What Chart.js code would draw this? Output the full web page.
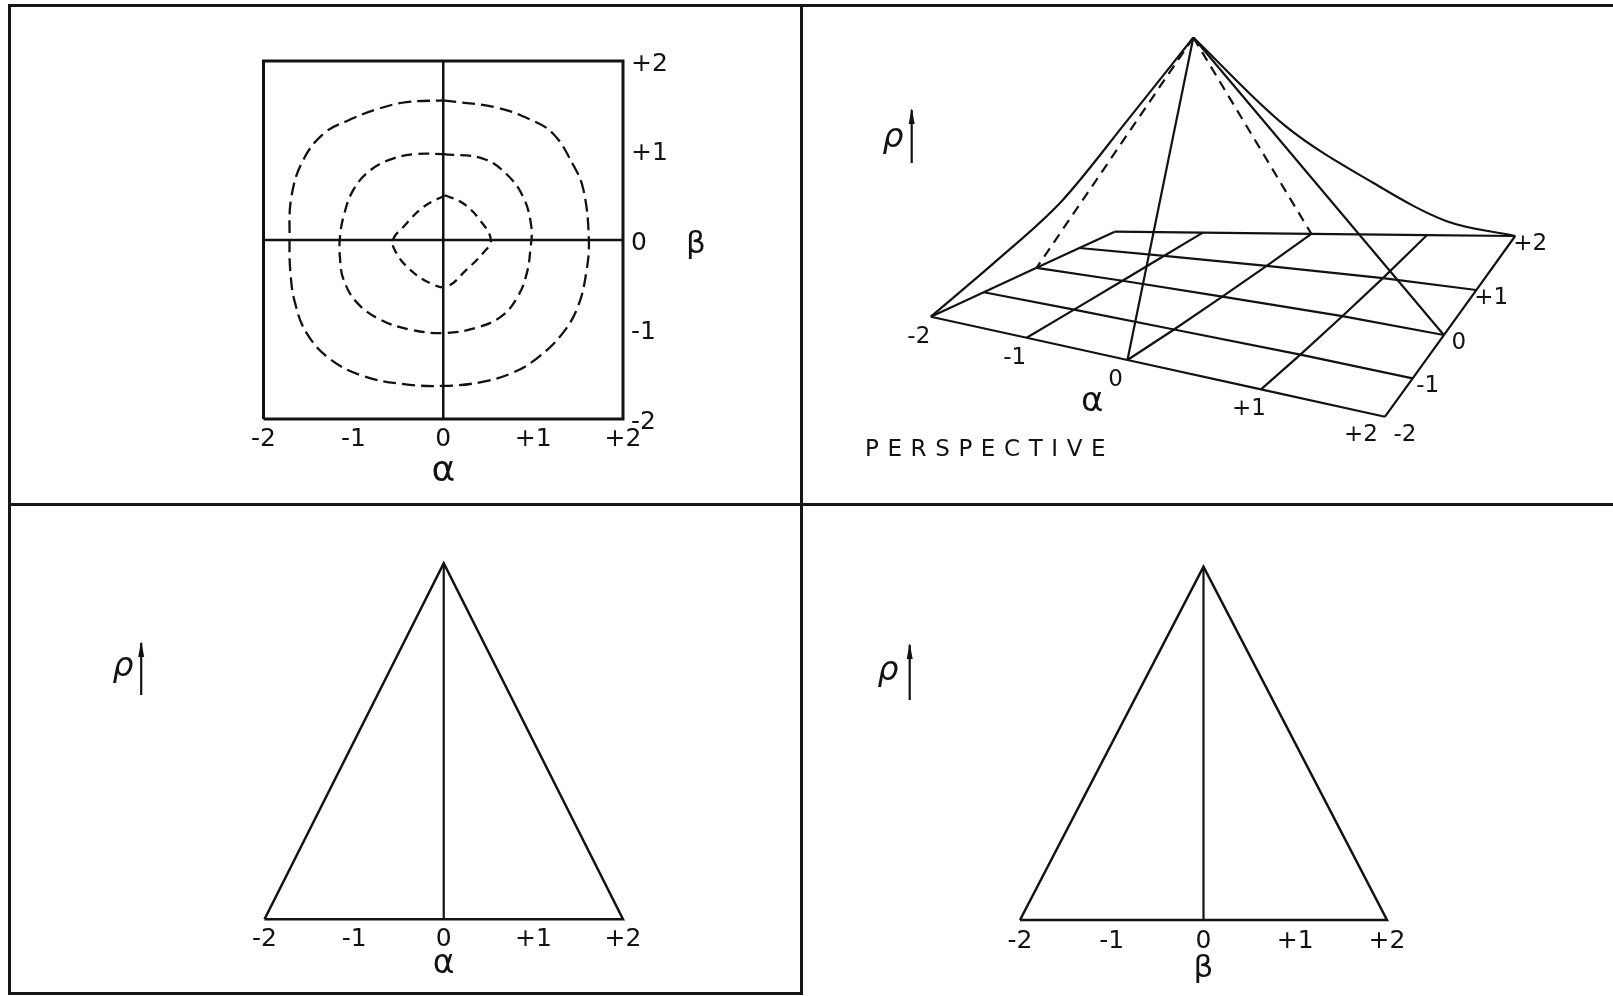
<!DOCTYPE html>
<html>
<head>
<meta charset="utf-8">
<title>rho over alpha, beta</title>
<script src="https://cdn.jsdelivr.net/npm/chart.js@4/dist/chart.umd.min.js"></script>
<style>
    html, body { margin: 0; padding: 0; background: #fff; }
    body { position: relative; width: 1613px; height: 996px; overflow: hidden; }
    canvas { position: absolute; }
    .rule { position: absolute; background: #161616; }
</style>
</head>
<body>
<div class="rule" style="left:8px; top:4px; width:1605px; height:3px"></div>
<div class="rule" style="left:8px; top:4px; width:3px; height:991px"></div>
<div class="rule" style="left:800px; top:4px; width:3px; height:991px"></div>
<div class="rule" style="left:8px; top:503px; width:1605px; height:3px"></div>
<div class="rule" style="left:8px; top:992px; width:795px; height:3px"></div>

<canvas id="contour" width="790" height="498" style="left:10px; top:6px"></canvas>
<canvas id="persp" width="811" height="498" style="left:802px; top:6px"></canvas>
<canvas id="cutA" width="790" height="486" style="left:10px; top:506px"></canvas>
<canvas id="cutB" width="811" height="486" style="left:802px; top:506px"></canvas>

<script>
var ticks = [-2, -1, 0, 1, 2];
var tickText = ['-2', '-1', '0', '+1', '+2'];

// contours of rho in the (alpha, beta) plane, [alpha, beta]
var ringOuter = [[0, 1.56], [0.59, 1.48], [0.96, 1.35], [1.22, 1.19], [1.44, 0.85], [1.56, 0.56],
    [1.62, 0], [1.59, -0.37], [1.5, -0.74], [1.33, -1.04], [1.07, -1.3], [0.78, -1.48], [0.41, -1.59],
    [0, -1.63], [-0.44, -1.61], [-0.89, -1.52], [-1.26, -1.33], [-1.52, -1.04], [-1.65, -0.7],
    [-1.7, -0.37], [-1.71, 0], [-1.69, 0.48], [-1.56, 0.89], [-1.33, 1.19], [-1.07, 1.33],
    [-0.74, 1.46], [-0.41, 1.54]];
var ringMiddle = [[0, 0.96], [0.44, 0.91], [0.7, 0.74], [0.89, 0.48], [0.98, 0.15], [0.97, -0.1],
    [0.93, -0.37], [0.83, -0.63], [0.65, -0.85], [0.37, -0.98], [0, -1.04], [-0.37, -1.0],
    [-0.7, -0.89], [-0.96, -0.7], [-1.11, -0.44], [-1.15, -0.19], [-1.15, 0.02], [-1.11, 0.26],
    [-1.0, 0.56], [-0.81, 0.78], [-0.56, 0.91], [-0.3, 0.96]];
var ringInner = [[0.02, 0.5], [0.22, 0.41], [0.41, 0.22], [0.53, 0], [0.44, -0.15], [0.26, -0.33],
    [0.04, -0.52], [-0.15, -0.48], [-0.37, -0.33], [-0.52, -0.15], [-0.56, 0], [-0.44, 0.15],
    [-0.22, 0.37]];

// sections through the peak: rho against alpha (beta = 0) and against beta (alpha = 0)
var cutPos = [-2, 0, 2];
var cutRho = [0, 1, 0];

// rho down the two diagonals of the surface, t steps out from the peak
var diagStep = [0, 0.5, 1, 1.5, 2];
var diagRhoNear = [1, 0.71, 0.42, 0.21, 0];   // alpha = beta = -t
var diagRhoFar = [1, 0.63, 0.37, 0.15, 0];    // alpha = beta = +t

var ink = '#121212';
var fam = "'DejaVu Sans', sans-serif";

// perspective camera, in panel units
var cam = {
    // base plane corners for (a, b) = (-2,-2), (2,-2), (2,2), (-2,2)
    c: [[128.8, 310.7], [583, 410.7], [713.2, 230], [312.7, 225.7]],
    up: [-29, -259],              // lift for rho = 1
    // grid spacing along each edge, as fractions of the edge
    front: [0, .211, .433, .727, 1],
    back: [0, .220, .491, .780, 1],
    left: [0, .288, .575, .808, 1],
    right: [0, .2125, .452, .701, 1]
};

function along(tbl, v) {
    var i = Math.min(3, Math.floor(v + 2));
    var f = v + 2 - i;
    return tbl[i] + (tbl[i + 1] - tbl[i]) * f;
}

function project(a, b, r) {
    var ul = (a + 2) / 4, vl = (b + 2) / 4;
    var u = along(cam.front, a) * (1 - vl) + along(cam.back, a) * vl;
    var v = along(cam.left, b) * (1 - ul) + along(cam.right, b) * ul;
    var w = [(1 - u) * (1 - v), u * (1 - v), u * v, (1 - u) * v];
    var x = 0, y = 0;
    for (var k = 0; k < 4; k++) {
        x += w[k] * cam.c[k][0];
        y += w[k] * cam.c[k][1];
    }
    return { x: x + r * cam.up[0], y: y + r * cam.up[1] };
}

function seg(points, dash, tension, width) {
    return {
        data: points,
        showLine: true,
        borderColor: ink,
        borderWidth: width || 2.2,
        borderDash: dash || [],
        tension: tension || 0,
        pointRadius: 0,
        fill: false,
        clip: false
    };
}

function ring(pts, dash) {
    var closed = pts.concat([pts[0]]);
    return seg(closed.map(function (p) { return { x: p[0], y: p[1] }; }), dash, 0.4, 2.3);
}

// diagonal edge of the surface, ordered left to right so it can be splined monotonically
function edge(sign, rhos) {
    var pts = diagStep.map(function (t, i) { return project(sign * t, sign * t, rhos[i]); });
    pts.sort(function (p, q) { return p.x - q.x; });
    var ds = seg(pts);
    ds.cubicInterpolationMode = 'monotone';
    return ds;
}

function label(v) {
    return tickText[ticks.indexOf(v)];
}

function rhoMark(ctx, x, base, ax, y0, y1) {
    ctx.save();
    ctx.fillStyle = ink;
    ctx.strokeStyle = ink;
    ctx.font = 'italic 33px ' + fam;
    ctx.textAlign = 'center';
    ctx.textBaseline = 'alphabetic';
    ctx.fillText('\u03C1', x, base);
    ctx.lineWidth = 2.2;
    ctx.beginPath();
    ctx.moveTo(ax, y1);
    ctx.lineTo(ax, y0);
    ctx.stroke();
    ctx.beginPath();
    ctx.moveTo(ax, y0 - 2);
    ctx.lineTo(ax - 3, y0 + 14);
    ctx.lineTo(ax + 3, y0 + 14);
    ctx.closePath();
    ctx.fill();
    ctx.restore();
}

var quiet = { legend: { display: false }, tooltip: { enabled: false } };
var tickFont = { family: fam, size: 25 };
var lo = ticks[0], hi = ticks[ticks.length - 1];

function xAxis(name, nameSize, pad, height) {
    return {
        type: 'linear', min: lo, max: hi,
        grid: { display: false, drawTicks: false },
        border: { display: false },
        ticks: { stepSize: 1, padding: pad, maxRotation: 0, autoSkip: false, color: ink, font: tickFont, callback: label },
        title: { display: true, text: name, color: ink, font: { family: fam, size: nameSize }, padding: 0 },
        afterFit: function (s) { s.height = height; }
    };
}

// contour map
var boxPts = [[lo, lo], [hi, lo], [hi, hi], [lo, hi], [lo, lo]].map(function (p) { return { x: p[0], y: p[1] }; });
new Chart(document.getElementById('contour'), {
    type: 'scatter',
    data: {
        datasets: [
            seg(boxPts, null, 0, 3),
            seg([{ x: lo, y: 0 }, { x: hi, y: 0 }], null, 0, 2.5),
            seg([{ x: 0, y: lo }, { x: 0, y: hi }], null, 0, 2.5),
            ring(ringOuter, [13, 6]),
            ring(ringMiddle, [11, 6]),
            ring(ringInner, [9, 6])
        ]
    },
    options: {
        animation: false, responsive: false, events: [],
        layout: { padding: { left: 253.5, right: 117, top: 55, bottom: 10.4 } },
        plugins: quiet,
        scales: {
            x: xAxis('\u03B1', 36, 5, 74.6),
            y: {
                type: 'linear', position: 'right', min: lo, max: hi,
                grid: { display: false, drawTicks: false },
                border: { display: false },
                ticks: { stepSize: 1, padding: 8, labelOffset: 3, color: ink, font: tickFont, callback: label },
                afterFit: function (s) { s.width = 60; }
            }
        }
    },
    plugins: [{
        id: 'betaName',
        afterDraw: function (chart) {
            var ctx = chart.ctx;
            ctx.save();
            ctx.fillStyle = ink;
            ctx.font = '31px ' + fam;
            ctx.textAlign = 'center';
            ctx.textBaseline = 'alphabetic';
            ctx.fillText('\u03B2', chart.chartArea.right + 73, chart.scales.y.getPixelForValue(0) + 13);
            ctx.restore();
        }
    }]
});

// perspective of the surface
var persp = [];
ticks.forEach(function (b) {
    persp.push(seg(ticks.map(function (a) { return project(a, b, 0); })));
});
ticks.forEach(function (a) {
    persp.push(seg(ticks.map(function (b) { return project(a, b, 0); })));
});
var apex = project(0, 0, cutRho[1]);
persp.push(seg([apex, project(0, lo, 0)]));
persp.push(seg([apex, project(hi, 0, 0)]));
persp.push(seg([apex, project(0, hi, 0)], [10, 7]));
persp.push(seg([apex, project(lo, 0, 0)], [10, 7]));
persp.push(edge(-1, diagRhoNear));
persp.push(edge(1, diagRhoFar));

new Chart(document.getElementById('persp'), {
    type: 'scatter',
    data: { datasets: persp },
    options: {
        animation: false, responsive: false, events: [],
        layout: { padding: 0 },
        plugins: quiet,
        scales: {
            x: { type: 'linear', display: false, min: 0, max: 811 },
            y: { type: 'linear', display: false, min: 0, max: 498, reverse: true }
        }
    },
    plugins: [{
        id: 'perspText',
        afterDraw: function (chart) {
            var ctx = chart.ctx, xs = chart.scales.x, ys = chart.scales.y;
            function put(p, dx, dy, text) {
                ctx.fillText(text, xs.getPixelForValue(p.x) + dx, ys.getPixelForValue(p.y) + dy);
            }
            ctx.save();
            ctx.fillStyle = ink;
            ctx.textAlign = 'center';
            ctx.textBaseline = 'middle';
            ctx.font = '23px ' + fam;
            ticks.forEach(function (a, i) {
                put(project(a, lo, 0), a === hi ? -24 : -12, a === hi ? 18 : 20, tickText[i]);
            });
            ticks.forEach(function (b, i) {
                put(project(hi, b, 0), b === lo ? 20 : 15, b === lo ? 18 : 8, tickText[i]);
            });
            ctx.font = '34px ' + fam;
            put(project(-0.3, lo, 0), -5, 49, '\u03B1');

            // caption, spaced out letter by letter
            ctx.font = '23px ' + fam;
            ctx.textAlign = 'left';
            var word = 'PERSPECTIVE', cx = 63;
            for (var k = 0; k < word.length; k++) {
                ctx.fillText(word[k], cx, 444);
                cx += ctx.measureText(word[k]).width + 8.6;
            }
            ctx.restore();
            rhoMark(ctx, 91, 141, 109.7, 104, 157);
        }
    }]
});

// the two sections
function section(id, name, nameSize, pad, height, padding, mark) {
    var tri = cutPos.map(function (p, i) { return { x: p, y: cutRho[i] }; });
    tri.push(tri[0]);
    new Chart(document.getElementById(id), {
        type: 'scatter',
        data: {
            datasets: [
                seg(tri, null, 0, 2.5),
                seg([{ x: cutPos[1], y: 0 }, { x: cutPos[1], y: cutRho[1] }])
            ]
        },
        options: {
            animation: false, responsive: false, events: [],
            layout: { padding: padding },
            plugins: quiet,
            scales: {
                x: xAxis(name, nameSize, pad, height),
                y: { type: 'linear', display: false, min: 0, max: 1 }
            }
        },
        plugins: [{
            id: 'rhoMark',
            afterDraw: function (chart) {
                rhoMark(chart.ctx, mark[0], mark[1], mark[2], mark[3], mark[4]);
            }
        }]
    });
}

section('cutA', '\u03B1', 33, 5, 64.5, { left: 254.5, right: 177, top: 57.3, bottom: 8.2 }, [113, 170, 131.2, 137, 189]);
section('cutB', '\u03B2', 31, 6, 67.4, { left: 218, right: 226, top: 60.7, bottom: 4.6 }, [86, 174, 107.7, 139, 194]);
</script>
</body>
</html>
